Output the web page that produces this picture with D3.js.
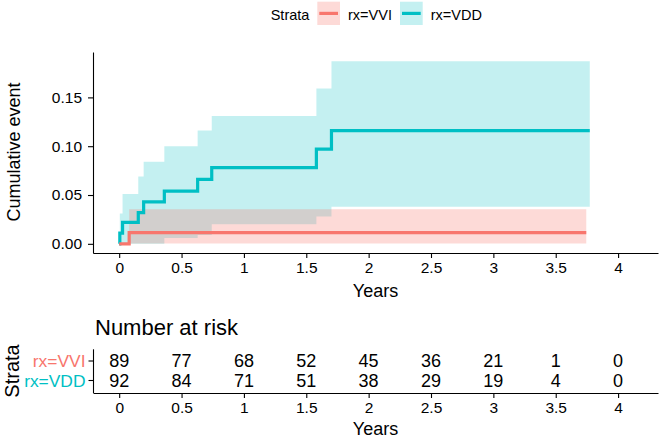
<!DOCTYPE html>
<html>
<head>
<meta charset="utf-8">
<script src="https://cdn.jsdelivr.net/npm/d3@7"></script>
<style>
  body { margin: 0; background: #fff; }
  svg { display: block; font-family: "Liberation Sans", Arial, sans-serif; }
  .axis path, .axis line { stroke: #000; stroke-width: 1.1; }
  .axis text { fill: #000; }
</style>
</head>
<body>
<script>
// strata
var strata = ["rx=VVI", "rx=VDD"];
var strataColors = ["#F8766D", "#00BFC4"];
var strataAlpha = [0.27, 0.23];

// cumulative event curves (step times in years)
var vviTime  = [0, 0.08, 3.745];
var vviEst   = [0, 0.0115, 0.0115];
var vviLower = [0, 0.0003, 0.0003];
var vviUpper = [0, 0.0355, 0.0355];

var vddTime  = [0, 0.005, 0.027, 0.153, 0.196, 0.362, 0.629, 0.742, 1.581, 1.702, 3.773];
var vddEst   = [0, 0.011, 0.022, 0.032, 0.043, 0.054, 0.066, 0.078, 0.097, 0.116, 0.116];
var vddLower = [0, 0, 0, 0, 0, 0.006, 0.009, 0.020, 0.028, 0.038, 0.038];
var vddUpper = [0, 0.031, 0.051, 0.069, 0.084, 0.100, 0.116, 0.131, 0.159, 0.187, 0.187];

// number at risk
var riskTimes = [0, 0.5, 1, 1.5, 2, 2.5, 3, 3.5, 4];
var vviRisk = [89, 77, 68, 52, 45, 36, 21, 1, 0];
var vddRisk = [92, 84, 71, 51, 38, 29, 19, 4, 0];

var yTicks = [0, 0.05, 0.10, 0.15];

var W = 661, H = 439;
var svg = d3.select("body").append("svg").attr("width", W).attr("height", H);

// scales
var x = d3.scaleLinear().domain([-0.21, 4.32]).range([93, 658]);
var y = d3.scaleLinear().domain([-0.0094, 0.1965]).range([253, 52]);

function rows(t, est, lo, hi) {
  return t.map(function(d, i) { return {t: d, est: est[i], lo: lo[i], hi: hi[i]}; });
}
var curves = [
  {name: strata[1], color: strataColors[1], alpha: strataAlpha[1], data: rows(vddTime, vddEst, vddLower, vddUpper)},
  {name: strata[0], color: strataColors[0], alpha: strataAlpha[0], data: rows(vviTime, vviEst, vviLower, vviUpper)}
];

var area = d3.area()
  .curve(d3.curveStepAfter)
  .x(function(d) { return x(d.t); })
  .y0(function(d) { return y(d.lo); })
  .y1(function(d) { return y(d.hi); });

var line = d3.line()
  .curve(d3.curveStepAfter)
  .x(function(d) { return x(d.t); })
  .y(function(d) { return y(d.est); });

// ribbons
svg.selectAll(".ribbon")
  .data(curves)
  .enter().append("path")
  .attr("class", "ribbon")
  .attr("d", function(d) { return area(d.data); })
  .attr("fill", function(d) { return d.color; })
  .attr("fill-opacity", function(d) { return d.alpha; });

// curves
svg.selectAll(".curve")
  .data(curves)
  .enter().append("path")
  .attr("class", "curve")
  .attr("d", function(d) { return line(d.data); })
  .attr("fill", "none")
  .attr("stroke", function(d) { return d.color; })
  .attr("stroke-width", 3.2);

// x axis
var xAxis = svg.append("g")
  .attr("class", "axis")
  .attr("transform", "translate(0,253)")
  .call(d3.axisBottom(x).tickValues(riskTimes).tickFormat(d3.format("")).tickSize(5).tickSizeOuter(0).tickPadding(4));
xAxis.selectAll("text").style("font-size", "15.5px");

// y axis
var yAxis = svg.append("g")
  .attr("class", "axis")
  .attr("transform", "translate(93,0)")
  .call(d3.axisLeft(y).tickValues(yTicks).tickFormat(d3.format(".2f")).tickSize(5).tickSizeOuter(0).tickPadding(6));
yAxis.selectAll("text").style("font-size", "15.5px");

svg.append("text")
  .attr("x", 375.5).attr("y", 296.5)
  .attr("text-anchor", "middle")
  .style("font-size", "18px")
  .text("Years");

svg.append("text")
  .attr("transform", "translate(20,152) rotate(-90)")
  .attr("text-anchor", "middle")
  .style("font-size", "18px")
  .text("Cumulative event");

// legend
svg.append("text")
  .attr("x", 270.7).attr("y", 20.3)
  .style("font-size", "14.5px")
  .text("Strata");

var legendX = [317.3, 400];
var legend = svg.selectAll(".legend")
  .data(strata)
  .enter().append("g")
  .attr("class", "legend")
  .attr("transform", function(d, i) { return "translate(" + legendX[i] + ",1.7)"; });

legend.append("rect")
  .attr("width", 22.7).attr("height", 23.3)
  .attr("fill", function(d, i) { return strataColors[i]; })
  .attr("fill-opacity", function(d, i) { return strataAlpha[i]; });

legend.append("line")
  .attr("x1", 2).attr("x2", 20.7)
  .attr("y1", 11.7).attr("y2", 11.7)
  .attr("stroke", function(d, i) { return strataColors[i]; })
  .attr("stroke-width", 3.2);

legend.append("text")
  .attr("x", 30.7).attr("y", 18.6)
  .style("font-size", "14.5px")
  .text(function(d) { return d; });

// risk table
svg.append("text")
  .attr("x", 95).attr("y", 335)
  .style("font-size", "22px")
  .text("Number at risk");

var ty = d3.scalePoint().domain(strata).range([361, 380.5]);

var tAxisX = svg.append("g")
  .attr("class", "axis")
  .attr("transform", "translate(0,393)")
  .call(d3.axisBottom(x).tickValues(riskTimes).tickFormat(d3.format("")).tickSize(5).tickSizeOuter(0).tickPadding(4));
tAxisX.selectAll("text").style("font-size", "15.5px");

var tAxisY = svg.append("g")
  .attr("class", "axis")
  .attr("transform", "translate(93.5,0)");
tAxisY.append("line")
  .attr("x1", 0).attr("x2", 0)
  .attr("y1", 349.3).attr("y2", 393)
  .attr("stroke", "#000").attr("stroke-width", 1.1);
tAxisY.selectAll(".tick")
  .data(strata)
  .enter().append("line")
  .attr("x1", -5).attr("x2", 0)
  .attr("y1", function(d) { return ty(d); })
  .attr("y2", function(d) { return ty(d); })
  .attr("stroke", "#000").attr("stroke-width", 1.1);
tAxisY.selectAll(".lab")
  .data(strata)
  .enter().append("text")
  .attr("x", -8)
  .attr("y", function(d) { return ty(d); })
  .attr("dy", "0.35em")
  .attr("text-anchor", "end")
  .style("font-size", "17.4px")
  .style("fill", function(d, i) { return strataColors[i]; })
  .text(function(d) { return d; });

var riskRows = [vviRisk, vddRisk];
riskRows.forEach(function(vals, r) {
  svg.selectAll(".risk" + r)
    .data(vals)
    .enter().append("text")
    .attr("class", "risk" + r)
    .attr("x", function(d, i) { return x(riskTimes[i]); })
    .attr("y", ty(strata[r]))
    .attr("dy", "0.35em")
    .attr("text-anchor", "middle")
    .style("font-size", "18px")
    .text(function(d) { return d; });
});

svg.append("text")
  .attr("x", 375.5).attr("y", 434.5)
  .attr("text-anchor", "middle")
  .style("font-size", "18px")
  .text("Years");

svg.append("text")
  .attr("transform", "translate(18.5,371) rotate(-90)")
  .attr("text-anchor", "middle")
  .style("font-size", "20px")
  .text("Strata");
</script>
</body>
</html>
